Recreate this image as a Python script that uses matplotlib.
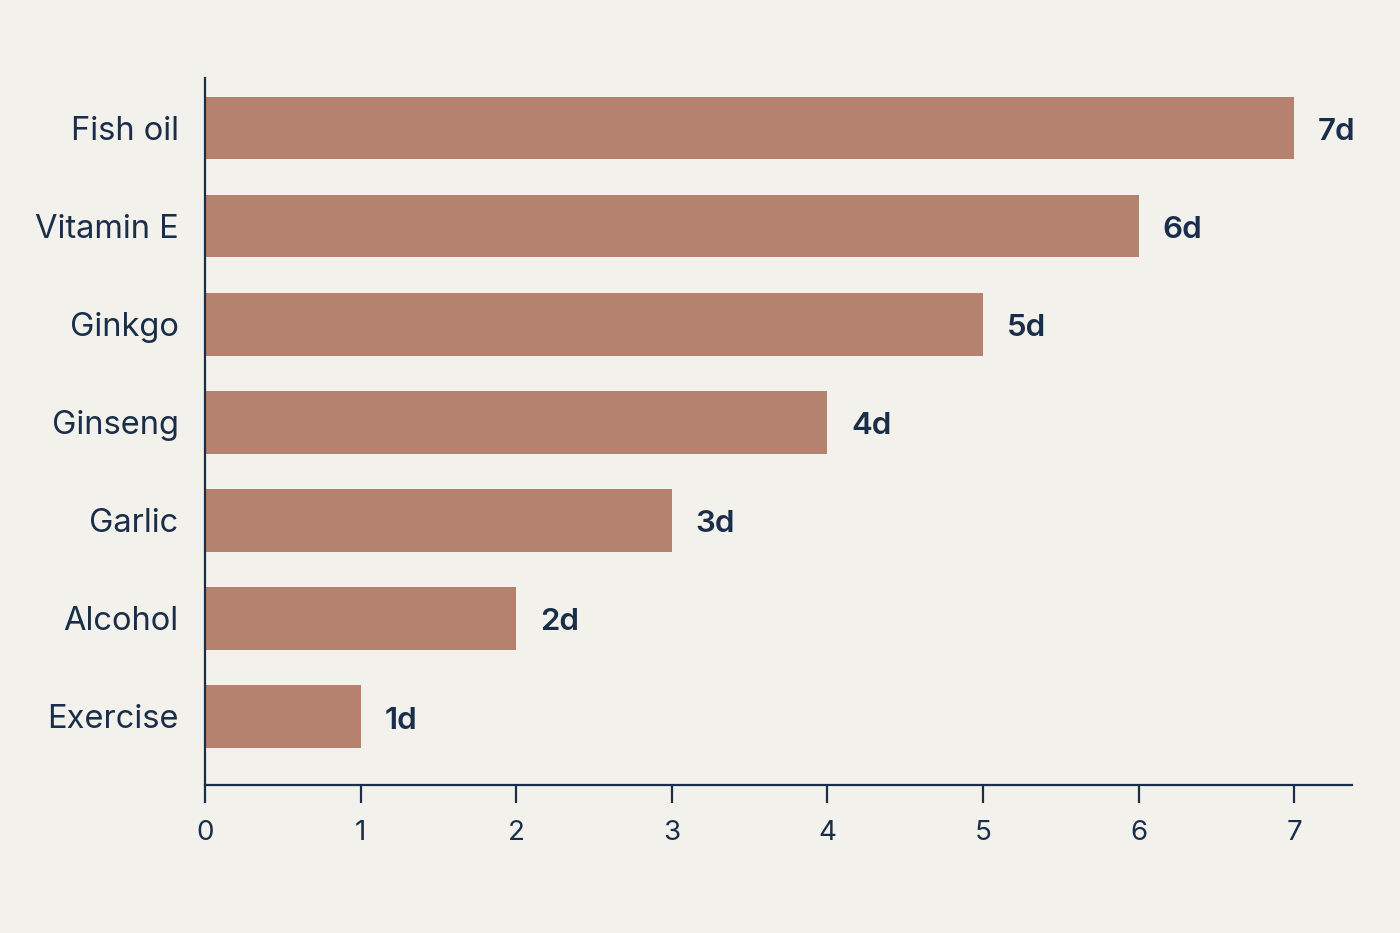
import matplotlib.pyplot as plt

categories = ['Exercise', 'Alcohol', 'Garlic', 'Ginseng', 'Ginkgo', 'Vitamin E', 'Fish oil']
days = [1, 2, 3, 4, 5, 6, 7]
labels = ['1d', '2d', '3d', '4d', '5d', '6d', '7d']
xticks = [0, 1, 2, 3, 4, 5, 6, 7]

bg = '#f3f1eb'
navy = '#1a2e4a'
bar_color = '#b5826f'

plt.rcParams['font.family'] = ['Inter', 'DejaVu Sans']

fig = plt.figure(figsize=(14, 9.33), dpi=100, facecolor=bg)
ax = fig.add_axes([0.1464, 0.1586, 0.8193, 0.7578])
ax.set_facecolor(bg)

ypos = list(range(len(categories)))
ax.barh(ypos, days, height=0.64, color=bar_color)

for y, v, lab in zip(ypos, days, labels):
    ax.annotate(lab, (v, y), xytext=(17, -3), textcoords='offset points',
                va='center', ha='left', fontsize=22.5, fontweight='semibold', color=navy)

ax.set_xlim(0, 7.37)
ax.set_ylim(-0.70, 6.51)
ax.set_xticks(xticks)
ax.set_xticklabels([str(t) for t in xticks])
ax.set_yticks(ypos)
ax.set_yticklabels(categories, va='center_baseline')

for s in ['top', 'right']:
    ax.spines[s].set_visible(False)
for s in ['left', 'bottom']:
    ax.spines[s].set_color(navy)
    ax.spines[s].set_linewidth(1.6)

ax.tick_params(axis='x', length=13, width=1.6, color=navy, labelsize=20, labelcolor=navy, pad=12)
ax.tick_params(axis='y', length=0, labelsize=23.5, labelcolor=navy, pad=19)

fig.savefig('out.png', dpi=100, facecolor=bg)
